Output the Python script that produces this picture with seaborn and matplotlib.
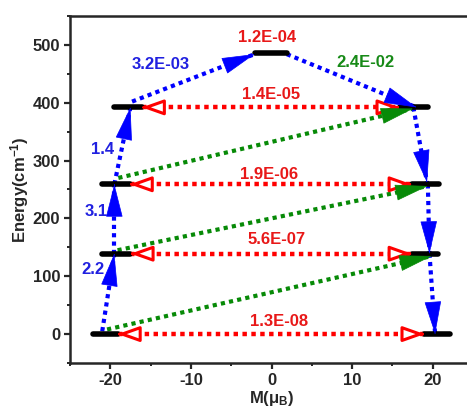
import numpy as np
import pandas as pd
import matplotlib
matplotlib.use("Agg")
import matplotlib.pyplot as plt
from matplotlib.patches import ArrowStyle
import seaborn as sns

# ---------------- data ----------------
# energy-level bars (M range and energy)
bar_M0 = [-22.2, 18.9, -21.0, 17.4, -21.0, 17.4, -19.6, 15.9, -2.1]
bar_M1 = [-19.1, 22.1, -17.6, 20.7, -17.6, 20.8, -16.1, 19.4, 1.9]
bar_E = [0, 0, 139, 139, 259, 259, 392, 392, 486]

# blue arrows
blue_start_M = [-21.0, -19.5, -19.5, -17.3, 1.9, 17.6, 19.4, 19.6]
blue_start_E = [5, 139, 259, 402, 484, 392, 259, 139]
blue_end_M = [-19.5, -19.5, -17.5, -2.1, 18.0, 19.3, 19.6, 20.3]
blue_end_E = [139, 259, 392, 484, 392, 262, 139, 0]

# red double-headed arrows
red_left_M = [-19.1, -17.5, -17.6, -16.1]
red_right_M = [19.0, 17.4, 17.4, 15.9]
red_E = [0, 139, 259, 392]

# green arrows
green_start_M = [-20.4, -19.1, -19.0]
green_start_E = [8, 145, 270]
green_end_M = [19.9, 19.4, 17.6]
green_end_E = [135, 256, 390]

# labels
red_labels = ["1.2E-04", "1.4E-05", "1.9E-06", "5.6E-07", "1.3E-08"]
red_label_M = [-0.6, 0.0, -0.3, 0.6, 1.0]
red_label_E = [512, 415, 276, 163, 21]
blue_labels = ["3.2E-03", "1.4", "3.1", "2.2"]
blue_label_M = [-13.8, -20.9, -21.7, -22.1]
blue_label_E = [467, 319, 212, 111]
green_labels = ["2.4E-02"]
green_label_M = [11.6]
green_label_E = [470]

x_ticks = [-20, -10, 0, 10, 20]
y_ticks = [0, 100, 200, 300, 400, 500]

# ---------------- style ----------------
sns.set_theme(style="ticks")
plt.rcParams["font.family"] = ["Liberation Sans", "DejaVu Sans"]
plt.rcParams["font.weight"] = "bold"
plt.rcParams["axes.unicode_minus"] = False
plt.rcParams["mathtext.fontset"] = "custom"
plt.rcParams["mathtext.rm"] = "Liberation Sans:bold"
plt.rcParams["mathtext.bf"] = "Liberation Sans:bold"
plt.rcParams["mathtext.it"] = "Liberation Sans:bold"

BLUE = "#0000FF"
RED = "#FF0000"
GREEN = "#078A07"
BLUE_T = "#2020E0"
RED_T = "#E81818"
GREEN_T = "#178A17"

fig = plt.figure(figsize=(4.67, 4.07), dpi=100)
ax = fig.add_axes([70 / 467, 44 / 407, (473 - 70) / 467, (363 - 16) / 407])

DOT = (0, (1, 1))


def segs_df(x0, y0, x1, y1):
    rows = []
    for i, (a, b, c, d) in enumerate(zip(x0, y0, x1, y1)):
        rows.append({"M": a, "E": b, "u": i})
        rows.append({"M": c, "E": d, "u": i})
    return pd.DataFrame(rows)


def head(x0, y0, x1, y1, ec, fc, hl, hw, lw, z):
    xt = x1 - (x1 - x0) * 0.01
    yt = y1 - (y1 - y0) * 0.01
    ax.annotate("", xy=(x1, y1), xytext=(xt, yt),
                arrowprops=dict(arrowstyle=ArrowStyle("-|>", head_length=hl, head_width=hw),
                                mutation_scale=1, fc=fc, ec=ec, lw=lw,
                                shrinkA=0, shrinkB=0),
                zorder=z)


# red dotted lines
df_red = segs_df(red_left_M, red_E, red_right_M, red_E)
sns.lineplot(data=df_red, x="M", y="E", units="u", estimator=None, sort=False,
             color=RED, lw=3.2, linestyle=DOT, dash_capstyle="butt", legend=False,
             ax=ax, zorder=2)
# green dotted lines
df_green = segs_df(green_start_M, green_start_E, green_end_M, green_end_E)
sns.lineplot(data=df_green, x="M", y="E", units="u", estimator=None, sort=False,
             color=GREEN, lw=3.0, linestyle=DOT, dash_capstyle="butt", legend=False,
             ax=ax, zorder=2)
# blue dotted lines
df_blue = segs_df(blue_start_M, blue_start_E, blue_end_M, blue_end_E)
sns.lineplot(data=df_blue, x="M", y="E", units="u", estimator=None, sort=False,
             color=BLUE, lw=3.0, linestyle=DOT, dash_capstyle="butt", legend=False,
             ax=ax, zorder=3)

# bars
df_bar = segs_df(bar_M0, bar_E, bar_M1, bar_E)
sns.lineplot(data=df_bar, x="M", y="E", units="u", estimator=None, sort=False,
             color="black", lw=4, solid_capstyle="round", legend=False,
             ax=ax, zorder=4)

# heads
for a, b, c in zip(red_left_M, red_right_M, red_E):
    head(b, c, a, c, RED, "white", 13, 4.6, 2.2, 5)
    head(a, c, b, c, RED, "white", 13, 4.6, 2.2, 5)
for a, b, c, d in zip(green_start_M, green_start_E, green_end_M, green_end_E):
    head(a, b, c, d, GREEN, GREEN, 22, 5.4, 0.5, 5)
for a, b, c, d in zip(blue_start_M, blue_start_E, blue_end_M, blue_end_E):
    head(a, b, c, d, BLUE, BLUE, 22, 5.6, 0.5, 6)

# labels
for t, m, e in zip(red_labels, red_label_M, red_label_E):
    ax.text(m, e, t, color=RED_T, fontsize=12, fontweight="bold", ha="center", va="center")
for t, m, e in zip(blue_labels, blue_label_M, blue_label_E):
    ax.text(m, e, t, color=BLUE_T, fontsize=12, fontweight="bold", ha="center", va="center")
for t, m, e in zip(green_labels, green_label_M, green_label_E):
    ax.text(m, e, t, color=GREEN_T, fontsize=12, fontweight="bold", ha="center", va="center")

# axes
ax.set_xlim(-25, 25)
ax.set_ylim(-50, 550)
ax.set_xticks(x_ticks)
ax.set_yticks(y_ticks)
ax.set_xticks(np.arange(-25, 26, 5), minor=True)
ax.set_yticks(np.arange(-50, 551, 50), minor=True)
ax.tick_params(axis="both", which="major", direction="out", length=4, width=1.6,
               labelsize=12, pad=3)
ax.tick_params(axis="both", which="minor", direction="out", length=2.5, width=1.4)
ax.tick_params(top=False, right=False, which="both")
for s in ax.spines.values():
    s.set_linewidth(1.8)
    s.set_visible(True)
for lab in ax.get_xticklabels() + ax.get_yticklabels():
    lab.set_fontweight("bold")

ax.set_xlabel(r"M($\mathbf{\mu_B}$)", fontsize=12, fontweight="bold", labelpad=1)
ax.set_ylabel(r"Energy(cm$^{\mathbf{-1}}$)", fontsize=12, fontweight="bold", labelpad=1)

fig.savefig("out.png", dpi=100)
